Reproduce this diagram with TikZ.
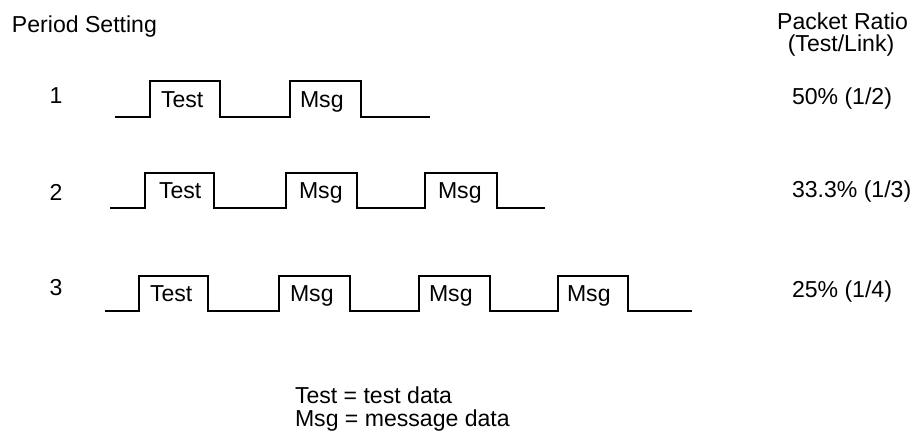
\documentclass[tikz,border=0pt]{standalone}
\usepackage{fontspec}
\setmainfont{Liberation Sans}
\begin{document}
\begin{tikzpicture}[x=0.75pt,y=-0.75pt,
  txt/.style={inner sep=0pt,outer sep=0pt,font=\fontsize{17.3}{20}\selectfont},
  wave/.style={line width=1.6pt,line join=miter,black},
  lbl/.style={txt,anchor=base west}]
\useasboundingbox (0,0) rectangle (918,432);
% headers
\node[lbl] (period) at (12,32) {Period Setting};
\node[txt,anchor=base] (ratio1) at (842.5,30) {Packet Ratio};
\node[txt,anchor=base] (ratio2) at (841,51) {(Test/Link)};
% period numbers
\node[txt,anchor=base] (n1) at (56,103) {1};
\node[txt,anchor=base] (n2) at (56,200) {2};
\node[txt,anchor=base] (n3) at (56,295) {3};
% ratios
\node[lbl] (r1) at (792,104) {50\% (1/2)};
\node[lbl] (r2) at (792,197) {33.3\% (1/3)};
\node[lbl] (r3) at (792,297) {25\% (1/4)};
% row 1
\draw[wave] (115,117) -- (150,117) -- (150,81) -- (220,81) -- (220,117)
  -- (290,117) -- (290,81) -- (361,81) -- (361,117) -- (430,117);
\node[lbl] (t1) at (161,107) {Test};
\node[lbl] (m11) at (300,107) {Msg};
% row 2
\draw[wave] (110,208) -- (145,208) -- (145,173) -- (214,173) -- (214,208)
  -- (286,208) -- (286,173) -- (357,173) -- (357,208)
  -- (425,208) -- (425,173) -- (497,173) -- (497,208) -- (545,208);
\node[lbl] (t2) at (159,198) {Test};
\node[lbl] (m21) at (299,198) {Msg};
\node[lbl] (m22) at (438,198) {Msg};
% row 3
\draw[wave] (105,311) -- (139,311) -- (139,276) -- (208,276) -- (208,311)
  -- (279,311) -- (279,276) -- (350,276) -- (350,311)
  -- (419,311) -- (419,276) -- (490,276) -- (490,311)
  -- (558,311) -- (558,276) -- (628,276) -- (628,311) -- (692,311);
\node[lbl] (t3) at (150,301) {Test};
\node[lbl] (m31) at (290,301) {Msg};
\node[lbl] (m32) at (429,301) {Msg};
\node[lbl] (m33) at (567,301) {Msg};
% legend
\node[lbl] (leg1) at (295,403) {Test = test data};
\node[lbl] (leg2) at (295,426) {Msg = message data};
\end{tikzpicture}
\end{document}
